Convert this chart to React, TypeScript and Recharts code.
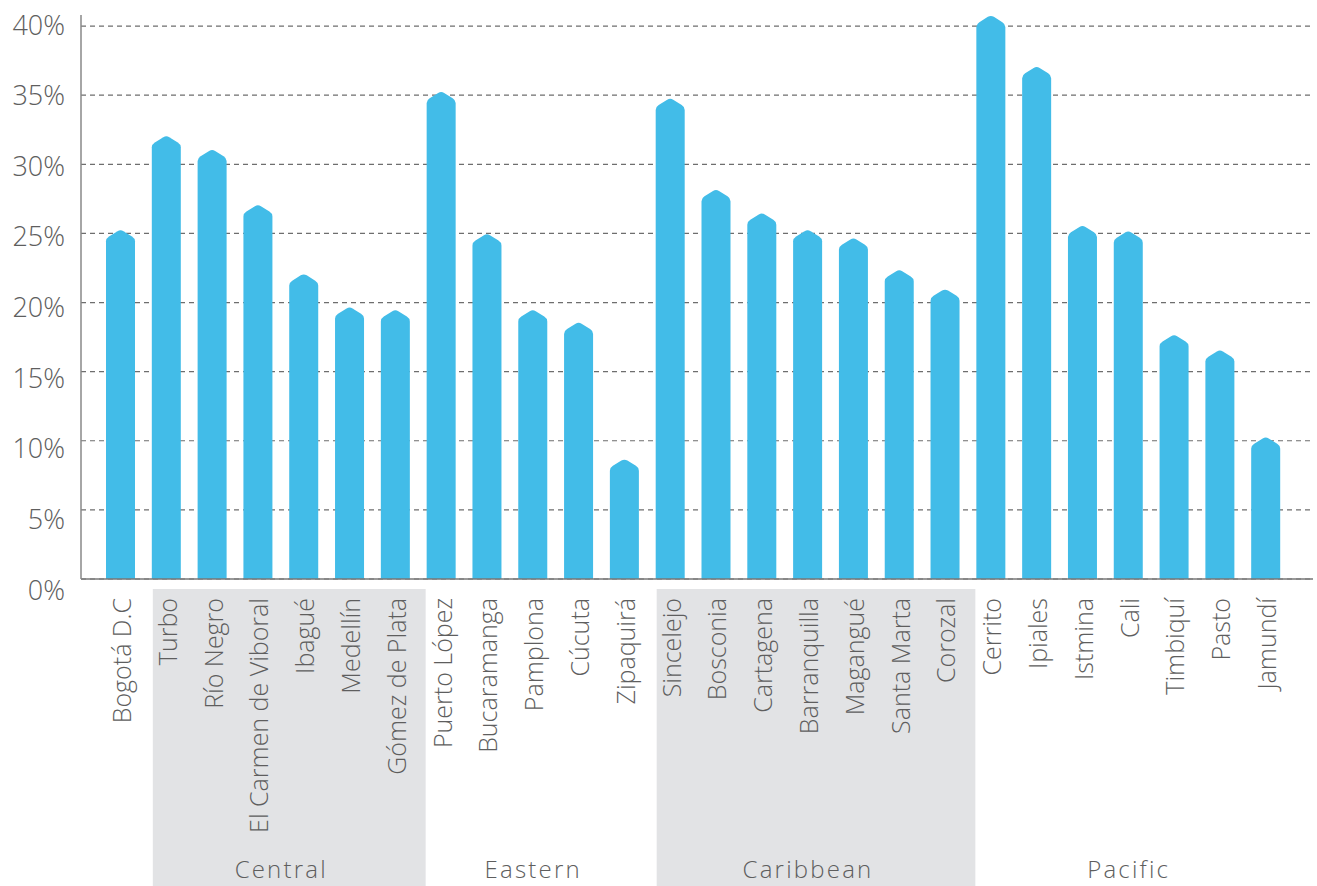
import { BarChart, Bar, XAxis, YAxis, CartesianGrid } from 'recharts';

const cities = [
  'Bogotá D.C', 'Turbo', 'Río Negro', 'El Carmen de Viboral', 'Ibagué', 'Medellín', 'Gómez de Plata',
  'Puerto López', 'Bucaramanga', 'Pamplona', 'Cúcuta', 'Zipaquirá',
  'Sincelejo', 'Bosconia', 'Cartagena', 'Barranquilla', 'Magangué', 'Santa Marta', 'Corozal',
  'Cerrito', 'Ipiales', 'Istmina', 'Cali', 'Timbiquí', 'Pasto', 'Jamundí',
];
const shares = [
  25.3, 32.1, 31.1, 27.1, 22.1, 19.7, 19.5,
  35.3, 25.0, 19.5, 18.6, 8.7,
  34.8, 28.2, 26.5, 25.3, 24.7, 22.4, 21.0,
  40.8, 37.1, 25.6, 25.2, 17.7, 16.6, 10.3,
];
const regions = [
  '', 'Central', 'Central', 'Central', 'Central', 'Central', 'Central',
  'Eastern', 'Eastern', 'Eastern', 'Eastern', 'Eastern',
  'Caribbean', 'Caribbean', 'Caribbean', 'Caribbean', 'Caribbean', 'Caribbean', 'Caribbean',
  'Pacific', 'Pacific', 'Pacific', 'Pacific', 'Pacific', 'Pacific', 'Pacific',
];
const shadedRegions = ['Central', 'Caribbean'];
const yTicks = [0, 5, 10, 15, 20, 25, 30, 35, 40];
const yMax = 40.8;

const data = cities.map((city, i) => ({ city, share: shares[i], region: regions[i] }));

const FONT = '"Open Sans", sans-serif';
const TEXT = '#5e5e5e';
// band step: plot 81..1313 minus padding, 26 categories
const STEP = (1232 - 17 - 24) / cities.length;

const ArrowBar = (props: any) => {
  const { x, y, width, height, fill } = props;
  if (!height || height <= 0) return null;
  const s = 9;
  const h = width / 2;
  const r = 3;
  const k = s / h;
  const d = [
    `M${x},${y + height}`,
    `L${x},${y + s + r}`,
    `Q${x},${y + s} ${x + r},${y + s - r * k}`,
    `L${x + h - r},${y + r * k}`,
    `Q${x + h},${y} ${x + h + r},${y + r * k}`,
    `L${x + width - r},${y + s - r * k}`,
    `Q${x + width},${y + s} ${x + width},${y + s + r}`,
    `L${x + width},${y + height}`,
    'Z',
  ].join(' ');
  return <path d={d} fill={fill} />;
};

const CityTick = (props: any) => {
  const { x, y, payload } = props;
  const i = payload.index;
  const region = regions[i];
  const first = region && regions[i - 1] !== region;
  const last = region && regions[i + 1] !== region;
  const count = regions.filter((r) => r === region).length;
  const ty = y + 19;
  return (
    <g>
      {first && shadedRegions.includes(region) && (
        <rect x={x - STEP / 2 + 9} y={y + 10} width={count * STEP - 2} height={307} fill="#e2e3e5" />
      )}
      <text
        x={x}
        y={ty}
        transform={`rotate(-90, ${x}, ${ty})`}
        textAnchor="end"
        dominantBaseline="central"
        fontFamily={FONT}
        fontWeight={300}
        fontSize={25}
        fill={TEXT}
      >
        {payload.value}
      </text>
      {last && (
        <text
          x={x - ((count - 1) / 2) * STEP}
          y={y + 299}
          textAnchor="middle"
          fontFamily={FONT}
          fontWeight={300}
          fontSize={24}
          letterSpacing={2.2}
          fill={TEXT}
        >
          {region}
        </text>
      )}
    </g>
  );
};

const PctTick = (props: any) => {
  const { x, y, payload } = props;
  // labels drift slightly downward toward the baseline in the original
  const dy = ((40 - payload.value) / 40) * 12 - 2;
  return (
    <text
      x={x}
      y={y + dy}
      textAnchor="end"
      dominantBaseline="central"
      fontFamily={FONT}
      fontWeight={300}
      fontSize={27}
      fill={TEXT}
    >
      {`${payload.value}%`}
    </text>
  );
};

export default function App() {
  return (
    <div style={{ position: 'absolute', left: 0, top: 0 }}>
      <BarChart width={1317} height={886} data={data} margin={{ top: 15, right: 4, bottom: 0, left: 0 }}>
        <CartesianGrid
          vertical={false}
          stroke="#6e6e6e"
          strokeWidth={1.2}
          strokeDasharray="5 4"
          horizontalCoordinatesGenerator={({ offset }: any) =>
            yTicks.map((t) => offset.top + offset.height * (1 - t / yMax))
          }
        />
        <XAxis
          dataKey="city"
          interval={0}
          height={307}
          padding={{ left: 17, right: 24 }}
          axisLine={{ stroke: '#777', strokeWidth: 1.5 }}
          tickLine={false}
          tickSize={0}
          tickMargin={0}
          tick={(p: any) => <CityTick {...p} />}
        />
        <YAxis
          width={81}
          domain={[0, yMax]}
          ticks={yTicks}
          interval={0}
          axisLine={{ stroke: '#888', strokeWidth: 1.5 }}
          tickLine={false}
          tickSize={0}
          tickMargin={16}
          tick={(p: any) => <PctTick {...p} />}
        />
        <Bar dataKey="share" fill="#42bce8" barSize={29} shape={ArrowBar} isAnimationActive={false} />
      </BarChart>
    </div>
  );
}
